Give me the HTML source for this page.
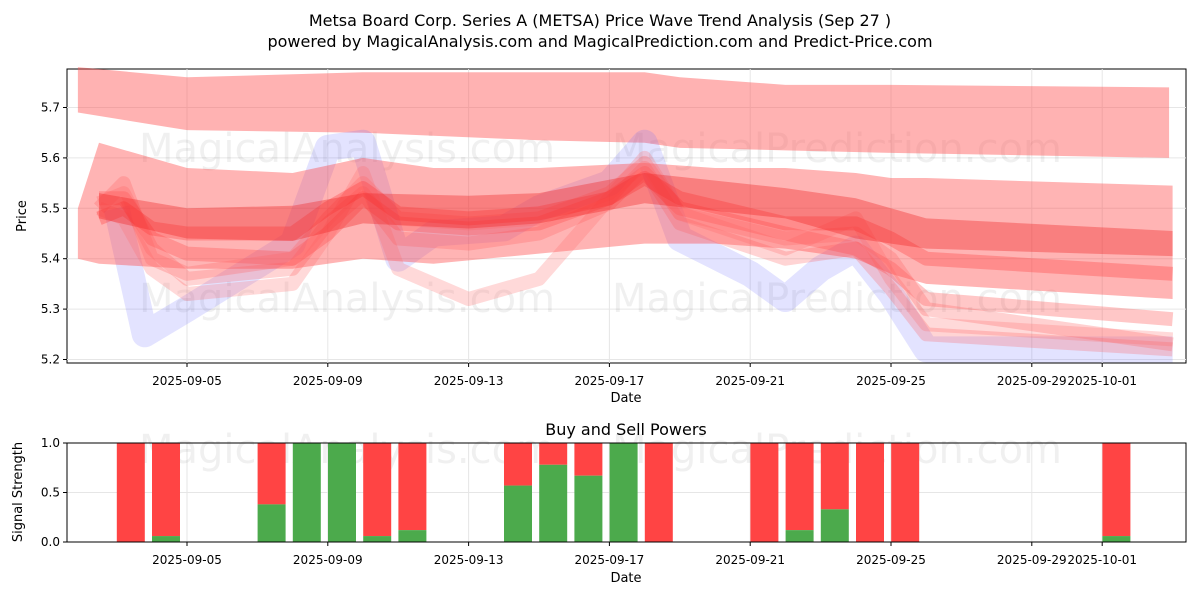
<!DOCTYPE html>
<html><head><meta charset="utf-8"><style>
body{margin:0;background:#fff}
svg{display:block;font-family:"DejaVu Sans","Liberation Sans",sans-serif}
</style></head><body>
<svg id="c" width="1200" height="600" xmlns="http://www.w3.org/2000/svg">
<text x="600" y="26" text-anchor="middle" font-size="16">Metsa Board Corp. Series A (METSA) Price Wave Trend Analysis (Sep 27 )</text>
<text x="600" y="47" text-anchor="middle" font-size="16">powered by MagicalAnalysis.com and MagicalPrediction.com and Predict-Price.com</text>
<g id="topg"></g>
<g id="botg"></g>
</svg>
<script>
// ---- data ----
const xTickLabels = ["2025-09-05","2025-09-09","2025-09-13","2025-09-17","2025-09-21","2025-09-25","2025-09-29","2025-10-01"];
const xTickDays = [5,9,13,17,21,25,29,31];
const yTicks = [5.2,5.3,5.4,5.5,5.6,5.7];
const bandTopDays = [1.9,5,10,15,18,19,22,25,32.9];
const bandTopHi = [5.78,5.76,5.77,5.77,5.77,5.76,5.745,5.745,5.74];
const bandTopLo = [5.69,5.655,5.65,5.635,5.63,5.62,5.615,5.61,5.60];
const bandWideDays = [1.9,2.5,5,8,10,12,15,18,20,22,24,25,26,33];
const bandWideHi = [5.50,5.63,5.58,5.57,5.60,5.58,5.58,5.59,5.58,5.58,5.57,5.56,5.56,5.545];
const bandWideLo = [5.40,5.39,5.38,5.38,5.40,5.39,5.41,5.43,5.43,5.42,5.40,5.37,5.35,5.32];
const bandDarkDays = [2.5,5,8,10,13,15,18,22,24,25,26,33];
const bandDarkHi = [5.53,5.50,5.505,5.53,5.525,5.53,5.57,5.54,5.52,5.50,5.48,5.455];
const bandDarkLo = [5.48,5.44,5.435,5.47,5.46,5.47,5.51,5.48,5.44,5.43,5.42,5.405];
const blueDays = [3,3.8,5,8,9,10,11,12,14,15,17,18,19,21,22,23,24,25,26,33];
const blueVals = [5.50,5.25,5.30,5.43,5.62,5.63,5.40,5.45,5.46,5.50,5.55,5.63,5.44,5.37,5.32,5.38,5.42,5.33,5.22,5.22];
const lineDays = [2.5,3.2,4,5,8,9,10,11,13,15,17,18,19,22,24,25,26,33];
const lineA = [5.52,5.52,5.44,5.41,5.40,5.45,5.52,5.47,5.46,5.47,5.52,5.57,5.50,5.45,5.42,5.38,5.32,5.28];
const lineB = [5.50,5.55,5.40,5.37,5.40,5.48,5.55,5.48,5.47,5.48,5.53,5.59,5.49,5.44,5.45,5.40,5.30,5.23];
const lineC = [5.48,5.50,5.46,5.45,5.45,5.50,5.54,5.49,5.48,5.49,5.52,5.56,5.52,5.47,5.47,5.44,5.40,5.37];
const lineD = [5.50,5.48,5.38,5.33,5.35,5.45,5.57,5.38,5.32,5.36,5.52,5.60,5.49,5.42,5.48,5.36,5.27,5.24];
const lineE = [5.51,5.53,5.42,5.36,5.38,5.47,5.53,5.44,5.43,5.45,5.51,5.58,5.47,5.40,5.42,5.34,5.25,5.22];
const barDays = [4,5,8,9,10,11,12,15,16,17,18,19,22,23,24,25,26,32];
const buyPower = [0,0.06,0.38,1,1,0.06,0.12,0.57,0.78,0.67,1,0,0,0.12,0.33,0,0,0.06];
const bTicks = [0,0.5,1.0];
// ---- scales ----
const X=d=>187+(d-5)*35.2, Y=v=>359.5-(v-5.2)*504, YB=v=>542-v*99;
const NS="http://www.w3.org/2000/svg";
function mk(p,t,a){const e=document.createElementNS(NS,t);for(const k in a)e.setAttribute(k,a[k]);p.appendChild(e);return e;}
const topG=document.getElementById('topg'), botG=document.getElementById('botg');
let f=mk(topG,'rect',{x:67,y:69,width:1119,height:294,fill:'none',stroke:'#000','stroke-width':1});

xTickDays.forEach((d,i)=>{
 let g=mk(topG,'line',{x1:X(d),x2:X(d),y1:69,y2:363,stroke:'#e6e6e6'});
 
 let g2=mk(botG,'line',{x1:X(d),x2:X(d),y1:443,y2:542,stroke:'#e6e6e6'});
 
 [[363,381],[542,560]].forEach(([y0,ty],k)=>{
  const p=k?botG:topG;
  mk(p,'line',{x1:X(d),x2:X(d),y1:y0,y2:y0+4,stroke:'#000'});
  let t=mk(p,'text',{x:X(d),y:ty+4,'text-anchor':'middle','font-size':12});t.textContent=xTickLabels[i];
  
 });
});
yTicks.forEach(v=>{
 let g=mk(topG,'line',{x1:67,x2:1186,y1:Y(v),y2:Y(v),stroke:'#e6e6e6'});
 
 mk(topG,'line',{x1:63,x2:67,y1:Y(v),y2:Y(v),stroke:'#000'});
 let t=mk(topG,'text',{x:60,y:Y(v)+4,'text-anchor':'end','font-size':12});t.textContent=v.toFixed(1);
 
});
[[347,162,topG],[837,162,topG],[347,312,topG],[837,312,topG],[347,463,botG],[837,463,botG]].forEach(([x,y,p])=>{
 let t=mk(p,'text',{x:x,y:y,'text-anchor':'middle','font-size':40,fill:'#000','fill-opacity':0.06});
 t.textContent=x<600?'MagicalAnalysis.com':'MagicalPrediction.com';
 
});
function band(days,hi,lo,col,op,name){
 let pts=days.map((d,i)=>X(d)+','+Y(hi[i])).concat(days.map((d,i)=>X(d)+','+Y(lo[i])).reverse());
 let p=mk(topG,'polygon',{points:pts.join(' '),fill:col,'fill-opacity':op});
 
}
function line(days,vals,col,op,w,name){
 let p=mk(topG,'polyline',{points:days.map((d,i)=>X(d)+','+Y(vals[i])).join(' '),fill:'none',stroke:col,'stroke-opacity':op,'stroke-width':w,'stroke-linejoin':'round','stroke-linecap':'butt'});
 
}
band(bandTopDays,bandTopHi,bandTopLo,'#ff5555',0.45,'upper-band');
line(blueDays,blueVals,'#6666ff',0.18,26,'blue-wave');
band(bandWideDays,bandWideHi,bandWideLo,'#ff4444',0.4,'wide-band');
line(lineDays,lineD,'#ff6666',0.25,14,'wave-line-d');
line(lineDays,lineE,'#ff5555',0.25,14,'wave-line-e');
line(lineDays,lineA,'#ff4444',0.3,14,'wave-line-a');
line(lineDays,lineB,'#ff6666',0.3,14,'wave-line-b');
line(lineDays,lineC,'#ff3333',0.3,14,'wave-line-c');
band(bandDarkDays,bandDarkHi,bandDarkLo,'#ee2222',0.36,'core-band');
let lx=mk(topG,'text',{x:626,y:402,'text-anchor':'middle','font-size':13});lx.textContent='Date';

let ly=mk(topG,'text',{x:26,y:216,'text-anchor':'middle','font-size':13,transform:'rotate(-90 26 216)'});ly.textContent='Price';

bTicks.forEach(v=>{
 let g=mk(botG,'line',{x1:67,x2:1186,y1:YB(v),y2:YB(v),stroke:'#e6e6e6'});
 
 mk(botG,'line',{x1:63,x2:67,y1:YB(v),y2:YB(v),stroke:'#000'});
 let t=mk(botG,'text',{x:60,y:YB(v)+4,'text-anchor':'end','font-size':12});t.textContent=v.toFixed(1);
 
});
barDays.forEach((d,i)=>{
 const cx=X(d)-21,w=28,b=buyPower[i];
 let r=mk(botG,'rect',{x:cx-w/2,y:YB(1),width:w,height:YB(b)-YB(1),fill:'#ff4444'});
 
 let g=mk(botG,'rect',{x:cx-w/2,y:YB(b),width:w,height:YB(0)-YB(b),fill:'#4caa4c'});
 
});
let f2=mk(botG,'rect',{x:67,y:443,width:1119,height:99,fill:'none',stroke:'#000'});

let bt=mk(botG,'text',{x:626,y:435,'text-anchor':'middle','font-size':16});bt.textContent='Buy and Sell Powers';

let bx=mk(botG,'text',{x:626,y:582,'text-anchor':'middle','font-size':13});bx.textContent='Date';

let by=mk(botG,'text',{x:22,y:492,'text-anchor':'middle','font-size':13,transform:'rotate(-90 22 492)'});by.textContent='Signal Strength';

</script>
</body></html>
